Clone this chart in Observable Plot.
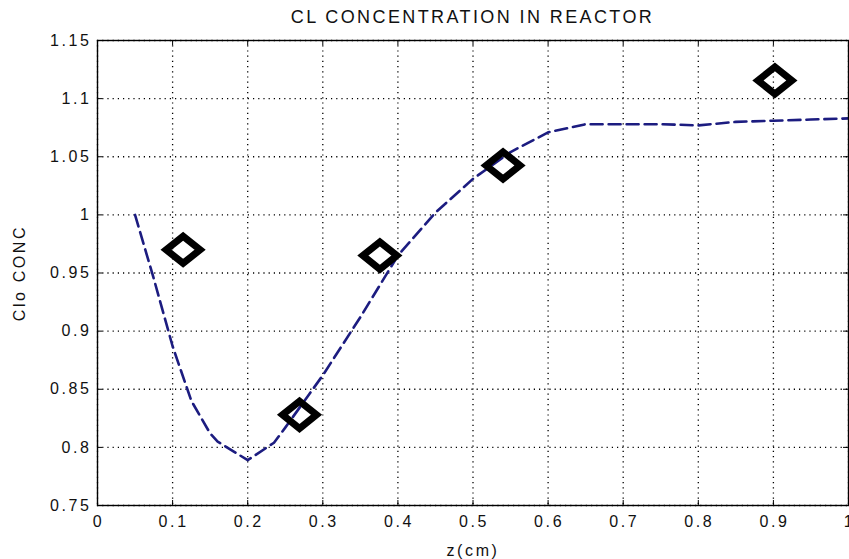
<!DOCTYPE html>
<html>
<head>
<meta charset="utf-8">
<script src="https://cdn.jsdelivr.net/npm/d3@7"></script>
<script src="https://cdn.jsdelivr.net/npm/@observablehq/plot@0.6"></script>
<style>
  html, body { margin: 0; padding: 0; background: #fff; overflow: hidden; }
  #wrap { position: relative; width: 849px; height: 559px; font-family: "Liberation Sans", Arial, sans-serif; }
  #title { position: absolute; left: 97px; width: 751px; top: 7px; text-align: center; font-size: 18px; color: #111; letter-spacing: 2.4px; }
  #chart { position: absolute; left: 0; top: 0; }
</style>
</head>
<body>
<div id="wrap">
  <div id="chart"></div>
  <div id="title">CL CONCENTRATION IN REACTOR</div>
</div>
<script>
// Model curve (dashed line)
const curveZ = [0.05, 0.075, 0.1, 0.125, 0.15, 0.16, 0.2, 0.235, 0.25, 0.3, 0.35, 0.4, 0.45, 0.5, 0.55, 0.6, 0.65, 0.7, 0.75, 0.8, 0.85, 0.9, 0.95, 1.0];
const curveC = [1.0, 0.945, 0.887, 0.84, 0.812, 0.805, 0.789, 0.804, 0.817, 0.862, 0.912, 0.965, 1.002, 1.031, 1.054, 1.071, 1.078, 1.078, 1.078, 1.077, 1.08, 1.081, 1.082, 1.083];
// Experimental points (diamonds)
const expZ = [0.114, 0.269, 0.376, 0.540, 0.902];
const expC = [0.970, 0.828, 0.965, 1.0425, 1.1156];
// Axis ticks
const xTicks = [0, 0.1, 0.2, 0.3, 0.4, 0.5, 0.6, 0.7, 0.8, 0.9, 1];
const yTicks = [0.75, 0.8, 0.85, 0.9, 0.95, 1, 1.05, 1.1, 1.15];
const xTickLabels = ["0", "0.1", "0.2", "0.3", "0.4", "0.5", "0.6", "0.7", "0.8", "0.9", "1"];
const yTickLabels = ["0.75", "0.8", "0.85", "0.9", "0.95", "1", "1.05", "1.1", "1.15"];

const curve = curveZ.map((z, i) => ({z, c: curveC[i]}));
const pts = expZ.map((z, i) => ({z, c: expC[i]}));

const W = 849, H = 559;
const mL = 97, mR = 1, mT = 40, mB = 54;
const pw = W - mL - mR, ph = H - mT - mB;
const tick = 5;

const wideDiamond = {
  draw(ctx, size) {
    const r = Math.sqrt(size / Math.PI);
    const w = r, h = r * 0.8;
    ctx.moveTo(0, -h); ctx.lineTo(w, 0); ctx.lineTo(0, h); ctx.lineTo(-w, 0); ctx.closePath();
  }
};

const chart = Plot.plot({
  width: W, height: H,
  marginLeft: mL, marginRight: mR, marginTop: mT, marginBottom: mB,
  style: {fontFamily: "'Liberation Sans', Arial, sans-serif", fontSize: "16px", color: "#111", background: "#fff", overflow: "visible", letterSpacing: "2.6px"},
  x: {domain: [0, 1], ticks: xTicks, tickFormat: (d, i) => xTickLabels[i]},
  y: {domain: [0.75, 1.15], ticks: yTicks, tickFormat: (d, i) => yTickLabels[i]},
  marks: [
    Plot.gridX(xTicks, {stroke: "#000", strokeOpacity: 1, strokeDasharray: "1.2,4", strokeWidth: 1.3}),
    Plot.gridY(yTicks, {stroke: "#000", strokeOpacity: 1, strokeDasharray: "1.2,4", strokeWidth: 1.3}),
    Plot.tickX(xTicks, {x: d => d, insetTop: ph - tick, stroke: "#000"}),
    Plot.tickX(xTicks, {x: d => d, insetBottom: ph - tick, stroke: "#000"}),
    Plot.tickY(yTicks, {y: d => d, insetRight: pw - tick, stroke: "#000"}),
    Plot.tickY(yTicks, {y: d => d, insetLeft: pw - tick, stroke: "#000"}),
    Plot.axisX(xTicks, {tickSize: 0, tickPadding: 10, tickFormat: (d, i) => xTickLabels[i], label: "z(cm)", labelAnchor: "center", labelArrow: "none", labelOffset: 50, fontSize: 16, dx: 1}),
    Plot.axisY(yTicks, {tickSize: 0, tickPadding: 6, tickFormat: (d, i) => yTickLabels[i], label: "Clo CONC", labelAnchor: "center", labelArrow: "none", labelOffset: 84, fontSize: 16}),
    Plot.line(curve, {x: "z", y: "c", stroke: "#1c1c80", strokeWidth: 2.6, strokeDasharray: "12,6"}),
    Plot.dot(pts, {x: "z", y: "c", symbol: wideDiamond, r: 17, stroke: "#000", strokeWidth: 7, fill: "none", strokeLinejoin: "miter"}),
    Plot.frame({stroke: "#000", strokeWidth: 1.4})
  ]
});
document.getElementById("chart").appendChild(chart);
</script>
</body>
</html>
